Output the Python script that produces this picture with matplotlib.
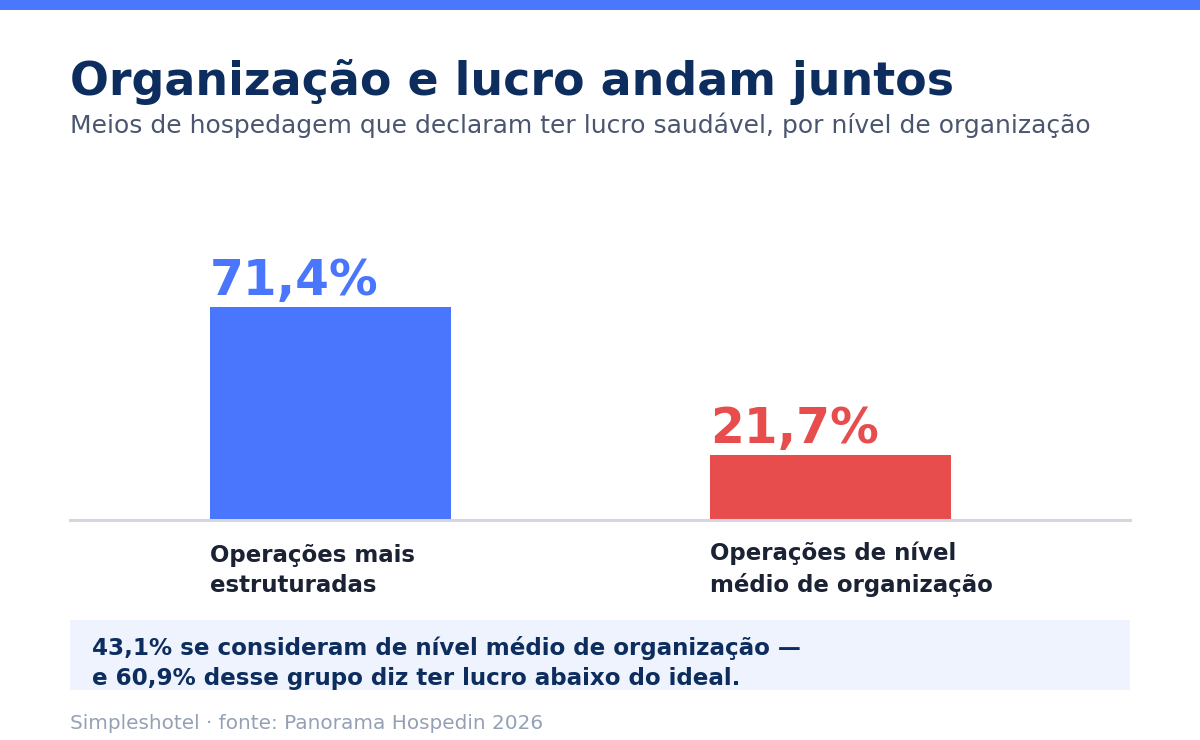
import matplotlib
matplotlib.use("Agg")
import matplotlib.pyplot as plt
from matplotlib.patches import Rectangle

plt.rcParams['font.family'] = 'sans-serif'

# data
categories = ['Operações mais\nestruturadas', 'Operações de nível\nmédio de organização']
values = [71.4, 21.7]
value_labels = ['71,4%', '21,7%']
bar_colors = ['#4a76fd', '#e84d4d']

title = 'Organização e lucro andam juntos'
subtitle = 'Meios de hospedagem que declaram ter lucro saudável, por nível de organização'
note = '43,1% se consideram de nível médio de organização —\ne 60,9% desse grupo diz ter lucro abaixo do ideal.'
footer = 'Simpleshotel · fonte: Panorama Hospedin 2026'

W, H = 1200, 740
fig = plt.figure(figsize=(12, 7.4), dpi=100)
fig.patch.set_facecolor('white')

def fx(px):
    return px / W

def fy(py):
    return 1 - py / H

# top accent strip
fig.patches.append(Rectangle((0, fy(10)), 1, 10 / H, transform=fig.transFigure,
                             facecolor='#4a78fc', edgecolor='none'))

fig.text(fx(70), fy(95), title, fontsize=33, fontweight='bold', color='#0c2d5e', va='baseline')
fig.text(fx(70), fy(133), subtitle, fontsize=18, color='#4a5670', va='baseline')

# bar axes: 70..1130 px wide, baseline at 519.5 px
ax_top, ax_bot = 170, 519.5
ax = fig.add_axes([fx(70), fy(ax_bot), fx(1060), (ax_bot - ax_top) / H])
px_per_unit = 213 / 71.4
ax.set_ylim(0, (ax_bot - ax_top) / px_per_unit)
ax.set_xlim(-0.28, 1.84)
xs = range(len(values))
ax.bar(xs, values, width=0.482, align='edge', color=bar_colors, zorder=2)
for x, v, lab, c in zip(xs, values, value_labels, bar_colors):
    ax.annotate(lab, (x, v), xytext=(0, 8.5), textcoords='offset points',
                fontsize=35, fontweight='bold', color=c, ha='left', va='baseline')
ax.set_xticks([])
ax.set_yticks([])
for s in ['top', 'right', 'left']:
    ax.spines[s].set_visible(False)
ax.spines['bottom'].set_color('#d4d7e0')
ax.spines['bottom'].set_linewidth(2.2)
ax.patch.set_alpha(0)

for x, cat in zip(xs, categories):
    ax.annotate(cat, (x, 0), xytext=(0, -52.2), textcoords='offset points',
                fontsize=16.5, fontweight='bold', color='#1a2233', ha='left', va='baseline',
                linespacing=1.4)

# callout box
fig.patches.append(Rectangle((fx(70), fy(690)), fx(1060), 70 / H, transform=fig.transFigure,
                             facecolor='#eef3fd', edgecolor='none'))
fig.text(fx(92), fy(685), note, fontsize=16.6, fontweight='bold', color='#0c2d5e',
         va='baseline', linespacing=1.4)

fig.text(fx(70), fy(729), footer, fontsize=14.4, color='#94a0b4', va='baseline')

fig.savefig('out.png', dpi=100, facecolor='white')
